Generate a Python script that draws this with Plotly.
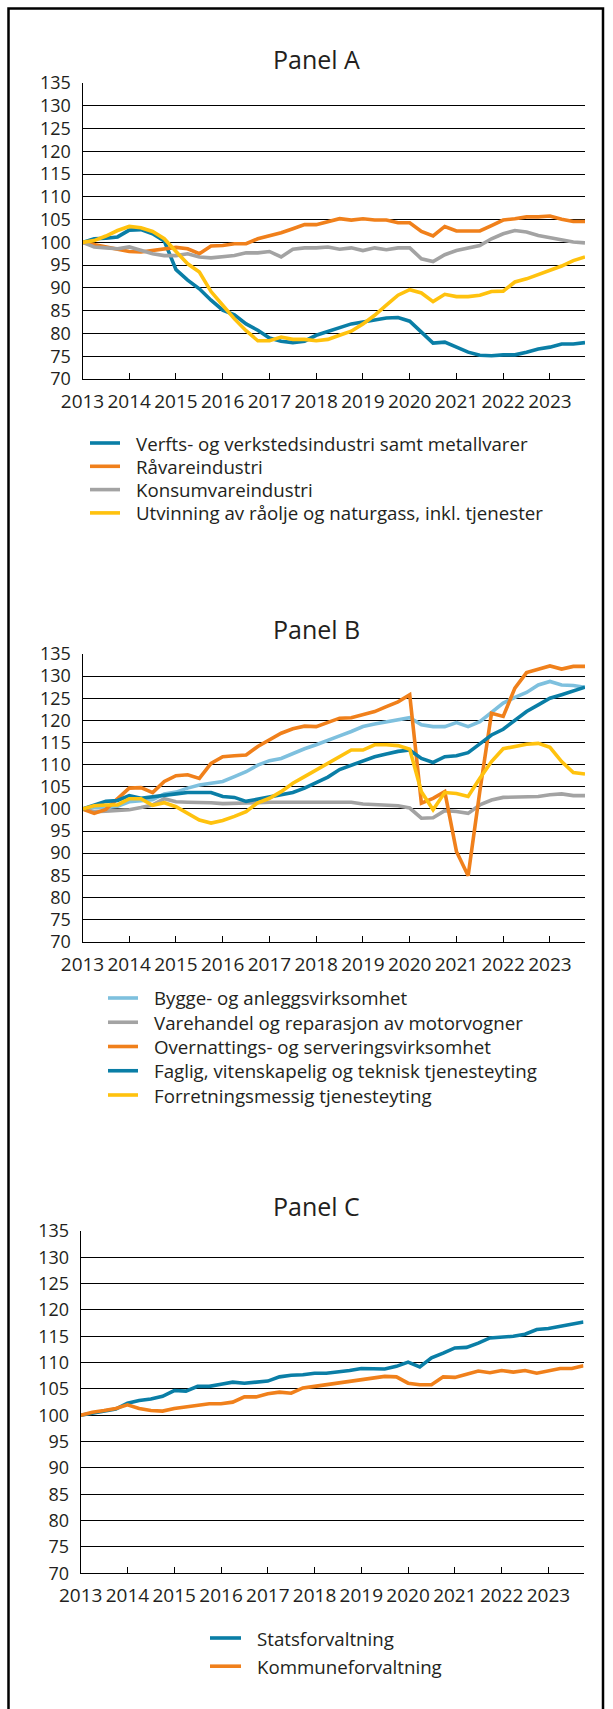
import plotly.graph_objects as go

W, H = 613, 1709

# Quarterly index, 2013Q1 = 100
quarters = [2013 + q / 4 for q in range(44)]
years = list(range(2013, 2024))
year_labels = [str(y) for y in years]
y_ticks = list(range(70, 136, 5))

# Panel A
verft = [100, 100.8, 100.9, 101.2, 102.7, 102.8, 101.9, 100.3, 94.0, 91.7, 89.8, 87.3,
         85.1, 84.1, 82.1, 80.7, 79.0, 78.3, 78.0, 78.3, 79.6, 80.4, 81.1, 82.1,
         82.5, 82.9, 83.4, 83.5, 82.7, 80.3, 77.9, 78.1, 77.0, 75.9, 75.2, 75.1,
         75.3, 75.3, 75.9, 76.6, 77.0, 77.7, 77.7, 78.0]
raavare = [100, 99.5, 99.2, 98.6, 98.0, 97.9, 98.2, 98.6, 98.9, 98.6, 97.5, 99.2,
           99.3, 99.7, 99.7, 100.8, 101.4, 102.1, 103.0, 103.9, 103.9, 104.5, 105.2, 104.9,
           105.2, 104.9, 104.9, 104.3, 104.3, 102.4, 101.4, 103.5, 102.5, 102.5, 102.5, 103.7,
           104.9, 105.2, 105.6, 105.6, 105.8, 105.1, 104.6, 104.6]
konsum = [100, 99.0, 98.8, 98.6, 99.0, 98.2, 97.5, 97.1, 97.1, 97.5, 96.8, 96.6,
          96.8, 97.1, 97.7, 97.7, 98.0, 96.8, 98.5, 98.8, 98.8, 99.0, 98.5, 98.8,
          98.2, 98.8, 98.4, 98.8, 98.8, 96.4, 95.8, 97.3, 98.2, 98.8, 99.3, 100.8,
          101.9, 102.6, 102.3, 101.5, 101.0, 100.4, 100.1, 99.9]
olje = [100, 100.4, 101.4, 102.6, 103.5, 103.2, 102.4, 100.8, 98.0, 95.3, 93.5, 89.2,
        86.2, 83.2, 80.6, 78.4, 78.4, 79.2, 78.7, 78.7, 78.4, 78.7, 79.6, 80.5,
        82.1, 84.0, 86.2, 88.4, 89.6, 88.9, 87.0, 88.6, 88.1, 88.1, 88.4, 89.2,
        89.3, 91.3, 92.0, 92.9, 93.8, 94.8, 96.0, 96.8]

# Panel B
bygg = [100, 100.4, 100.3, 100.6, 101.6, 101.8, 102.1, 103.4, 103.8, 104.7, 105.4, 105.8,
        106.2, 107.3, 108.4, 109.9, 110.9, 111.4, 112.6, 113.6, 114.5, 115.4, 116.5, 117.5,
        118.6, 119.2, 119.7, 120.1, 120.6, 119.0, 118.6, 118.6, 119.5, 118.6, 119.7, 121.8,
        123.9, 125.2, 126.3, 128.0, 128.8, 128.0, 127.9, 127.5]
varehandel = [100, 99.4, 99.5, 99.7, 99.8, 100.3, 100.9, 102.3, 101.6, 101.5, 101.5, 101.4,
              101.2, 101.2, 101.3, 101.4, 101.5, 101.5, 101.5, 101.5, 101.5, 101.5, 101.5, 101.5,
              101.1, 100.9, 100.8, 100.7, 100.2, 97.9, 98.0, 99.6, 99.4, 99.0, 100.9, 102.0,
              102.6, 102.6, 102.8, 102.8, 103.2, 103.4, 103.0, 103.0]
overnatting = [100, 99.0, 99.9, 102.4, 104.7, 104.8, 103.7, 106.2, 107.5, 107.7, 106.9, 110.3,
               111.8, 112.0, 112.2, 114.1, 115.6, 117.1, 118.1, 118.7, 118.6, 119.5, 120.5, 120.6,
               121.2, 122.0, 123.1, 124.2, 125.8, 101.3, 102.4, 103.9, 90.4, 84.9, 104.0, 121.6,
               120.9, 127.3, 130.8, 131.6, 132.3, 131.6, 132.2, 132.2]
faglig = [100, 100.9, 101.7, 101.9, 103.0, 102.4, 102.8, 103.2, 103.4, 103.7, 103.8, 103.7,
          102.8, 102.6, 101.7, 102.2, 102.6, 103.2, 103.7, 104.7, 105.9, 107.2, 108.9, 109.9,
          110.7, 111.8, 112.4, 113.0, 113.3, 111.4, 110.5, 111.8, 112.0, 112.7, 114.7, 116.7,
          118.0, 120.0, 122.0, 123.5, 125.0, 125.8, 126.7, 127.5]
forretning = [100, 100.7, 100.9, 100.9, 102.3, 102.3, 100.8, 101.4, 100.5, 99.0, 97.5, 96.8,
              97.4, 98.3, 99.4, 101.4, 102.4, 103.9, 105.8, 107.3, 108.8, 110.3, 111.9, 113.3,
              113.3, 114.5, 114.5, 114.3, 113.5, 103.9, 99.8, 103.7, 103.5, 102.8, 106.9, 110.7,
              113.6, 114.2, 114.6, 114.8, 113.9, 110.7, 108.2, 107.9]

# Panel C
stat = [100, 100.4, 100.9, 101.2, 102.3, 102.8, 103.1, 103.6, 104.7, 104.6, 105.5, 105.5,
        105.9, 106.3, 106.1, 106.3, 106.5, 107.3, 107.6, 107.7, 108.0, 108.0, 108.2, 108.5,
        108.9, 108.9, 108.8, 109.3, 110.1, 109.2, 110.9, 111.8, 112.8, 112.9, 113.7, 114.7,
        114.8, 115.0, 115.4, 116.3, 116.5, 116.9, 117.3, 117.7]
kommune = [100, 100.6, 100.9, 101.3, 102.0, 101.3, 100.9, 100.8, 101.3, 101.6, 101.9, 102.2,
           102.2, 102.5, 103.5, 103.5, 104.1, 104.4, 104.2, 105.2, 105.5, 105.8, 106.2, 106.5,
           106.8, 107.1, 107.4, 107.3, 106.1, 105.8, 105.8, 107.3, 107.2, 107.8, 108.4, 108.1,
           108.5, 108.2, 108.5, 108.0, 108.5, 108.9, 108.9, 109.4]

BLUE = "#0A7EA6"
ORANGE = "#F0801B"
GRAY = "#A3A3A3"
YELLOW = "#FFC20E"
LIGHTBLUE = "#7EC0DE"
FONT = "Open Sans"
TXT = "#231F20"
LW = 3.6


def px_x(v):
    return v / W


def px_y(v):
    return 1 - v / H


panels = [
    dict(title="Panel A", title_y=58.5, area=(82.5, 585, 83, 379),
         key=dict(line_x=(90, 120), text_x=134, rows=(443, 23.3)),
         series=[
             ("Verfts- og verkstedsindustri samt metallvarer", verft, BLUE),
             ("Råvareindustri", raavare, ORANGE),
             ("Konsumvareindustri", konsum, GRAY),
             ("Utvinning av råolje og naturgass, inkl. tjenester", olje, YELLOW),
         ]),
    dict(title="Panel B", title_y=629, area=(82.5, 585, 654, 941.7),
         key=dict(line_x=(108, 138), text_x=152, rows=(998, 24.25)),
         series=[
             ("Bygge- og anleggsvirksomhet", bygg, LIGHTBLUE),
             ("Varehandel og reparasjon av motorvogner", varehandel, GRAY),
             ("Overnattings- og serveringsvirksomhet", overnatting, ORANGE),
             ("Faglig, vitenskapelig og teknisk tjenesteyting", faglig, BLUE),
             ("Forretningsmessig tjenesteyting", forretning, YELLOW),
         ]),
    dict(title="Panel C", title_y=1206, area=(80.7, 583.5, 1231, 1573.3),
         key=dict(line_x=(210, 241), text_x=255, rows=(1638, 28.2)),
         series=[
             ("Statsforvaltning", stat, BLUE),
             ("Kommuneforvaltning", kommune, ORANGE),
         ]),
]

xa_common = dict(
    range=[2013, 2023.75], tickvals=years, ticktext=year_labels, tickangle=0,
    ticks="inside", ticklen=6, tickwidth=1, tickcolor="black",
    showline=True, linecolor="black", linewidth=1, showgrid=False,
    zeroline=False, tickfont=dict(family=FONT, size=19, color=TXT),
    ticklabelstandoff=5, automargin=False, fixedrange=True,
)
ya_common = dict(
    range=[70, 135], tickvals=y_ticks, showgrid=True, gridcolor="black",
    gridwidth=1, showline=True, linecolor="black", linewidth=1,
    zeroline=False, ticks="", tickfont=dict(family=FONT, size=18, color=TXT),
    ticklabelstandoff=7, automargin=False, fixedrange=True,
)

fig = go.Figure()
layout_axes = {}
annotations = []
shapes = []

for i, p in enumerate(panels):
    sfx = "" if i == 0 else str(i + 1)
    xa, ya = "x" + sfx, "y" + sfx
    l, r, t, b = p["area"]
    layout_axes["xaxis" + sfx] = dict(xa_common, domain=[px_x(l), px_x(r)], anchor=ya)
    layout_axes["yaxis" + sfx] = dict(ya_common, domain=[px_y(b), px_y(t)], anchor=xa)

    for name, vals, col in p["series"]:
        fig.add_trace(go.Scatter(
            x=quarters, y=vals, name=name, mode="lines",
            line=dict(color=col, width=LW), xaxis=xa, yaxis=ya,
            showlegend=False, hoverinfo="skip",
        ))

    # panel heading
    annotations.append(dict(
        text=p["title"], x=px_x(316), y=px_y(p["title_y"]), xref="paper", yref="paper",
        xanchor="center", yanchor="middle", showarrow=False,
        font=dict(family=FONT, size=25, color=TXT)))

    # key below each panel
    k = p["key"]
    y0, step = k["rows"]
    for j, (name, _, col) in enumerate(p["series"]):
        yc = y0 + j * step
        shapes.append(dict(
            type="line", xref="paper", yref="paper",
            x0=px_x(k["line_x"][0]), x1=px_x(k["line_x"][1]),
            y0=px_y(yc), y1=px_y(yc), line=dict(color=col, width=3.6)))
        annotations.append(dict(
            text=name, x=px_x(k["text_x"]), y=px_y(yc), xref="paper", yref="paper",
            xanchor="left", yanchor="middle", showarrow=False,
            font=dict(family=FONT, size=18.7, color=TXT)))

# outer frame, open at the bottom
shapes.append(dict(
    type="path", xref="paper", yref="paper",
    path=f"M {px_x(8.5)},0 L {px_x(8.5)},{px_y(8.5)} L {px_x(603)},{px_y(8.5)} L {px_x(603)},0",
    line=dict(color="black", width=2.5)))

fig.update_layout(
    width=W, height=H, margin=dict(l=0, r=0, t=0, b=0, autoexpand=False),
    paper_bgcolor="white", plot_bgcolor="white",
    font=dict(family=FONT, color=TXT),
    showlegend=False,
    annotations=annotations, shapes=shapes,
    **layout_axes,
)

fig.write_html("out.html")
